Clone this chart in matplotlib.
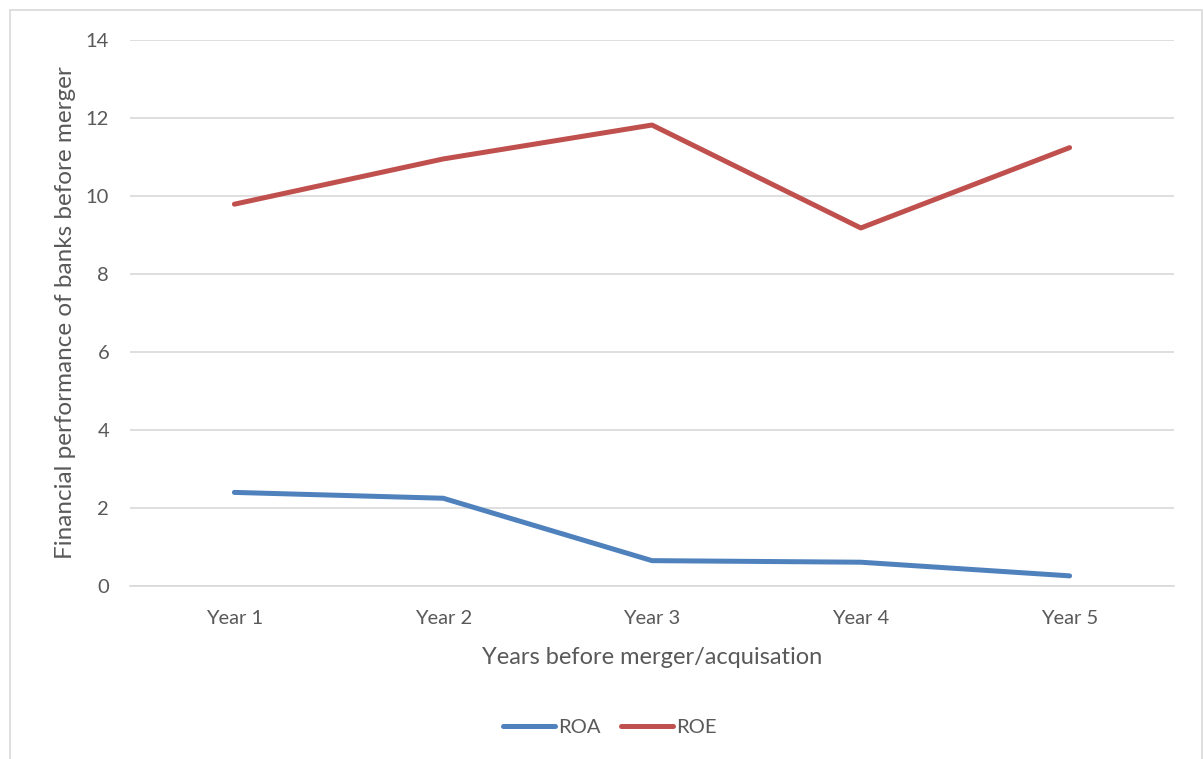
import matplotlib.pyplot as plt
from matplotlib.patches import Rectangle

years = ['Year 1', 'Year 2', 'Year 3', 'Year 4', 'Year 5']
roa = [2.40, 2.25, 0.65, 0.61, 0.26]
roe = [9.79, 10.95, 11.82, 9.18, 11.24]

text_color = '#595959'
plt.rcParams['font.family'] = ['Lato', 'DejaVu Sans']

fig = plt.figure(figsize=(12.04, 7.59), dpi=100)
W, H = 1204, 759

# light frame around the chart area
fig.patches.append(Rectangle((10 / W, -0.01), 1192 / W, 1 - 10 / H + 0.01,
                             transform=fig.transFigure, fill=False,
                             edgecolor='#d9d9d9', linewidth=1.2))

ax = fig.add_axes([130 / W, 1 - 586 / H, 1044 / W, 546 / H])
x = list(range(len(years)))
ax.plot(x, roa, color='#4F81BD', linewidth=3.6, solid_capstyle='round',
        solid_joinstyle='round', label='ROA')
ax.plot(x, roe, color='#C0504D', linewidth=3.6, solid_capstyle='round',
        solid_joinstyle='round', label='ROE')

ax.set_xlim(-0.5, len(years) - 0.5)
ax.set_ylim(0, 14)
ax.set_yticks(range(0, 15, 2))
ax.set_xticks(x)
ax.set_xticklabels(years)
ax.grid(axis='y', color='#d9d9d9', linewidth=1.2)
ax.set_axisbelow(True)
for side in ['top', 'right', 'left']:
    ax.spines[side].set_visible(False)
ax.spines['bottom'].set_color('#d9d9d9')
ax.spines['bottom'].set_linewidth(1.2)
ax.tick_params(length=0, labelsize=14.5, colors=text_color)
ax.tick_params(axis='x', pad=17)
ax.tick_params(axis='y', pad=15)

ax.set_xlabel('Years before merger/acquisation', fontsize=17, color=text_color, labelpad=15)
ax.set_ylabel('Financial performance of banks before merger', fontsize=17.5,
              color=text_color, labelpad=7)

fig.legend(loc='center', bbox_to_anchor=(610 / W, 1 - 727 / H), ncol=2,
           frameon=False, fontsize=14.5, labelcolor=text_color, handlelength=2.6,
           handletextpad=0.15, columnspacing=1.0)

fig.savefig('out.png', dpi=100, facecolor='white')
